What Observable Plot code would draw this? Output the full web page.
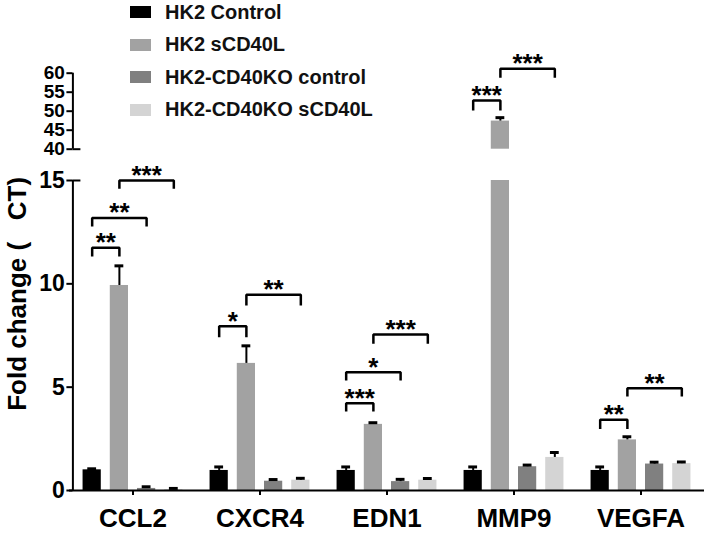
<!DOCTYPE html>
<html><head><meta charset="utf-8">
<script src="https://cdn.jsdelivr.net/npm/d3@7"></script>
<script src="https://cdn.jsdelivr.net/npm/@observablehq/plot@0.6"></script>
<style>
html,body{margin:0;padding:0;background:#fff;}
#chart{position:relative;width:709px;height:537px;font-family:"Liberation Sans",Arial,sans-serif;}
#chart svg{position:absolute;left:0;top:0;}
#legend{position:absolute;left:130px;top:0;width:300px;height:130px;z-index:2;}
.row{position:absolute;left:0;height:24px;display:flex;align-items:center;white-space:nowrap;font-weight:bold;font-size:20px;color:#111;}
.sw{width:21px;height:12px;margin-right:14px;flex:none;}
</style></head>
<body><div id="chart"><div id="legend"></div></div>
<script>
// ---- data ----
const genes = ["CCL2", "CXCR4", "EDN1", "MMP9", "VEGFA"];
const groups = ["HK2 Control", "HK2 sCD40L", "HK2-CD40KO control", "HK2-CD40KO sCD40L"];
const groupColors = ["#000000", "#a2a2a2", "#808080", "#d4d4d4"];

const hk2Control     = [1.00, 0.97, 0.97, 0.97, 0.97];
const hk2ControlErr  = [0.05, 0.17, 0.17, 0.17, 0.17];
const hk2sCD40L      = [9.92, 6.15, 3.20, 47.4, 2.45];
const hk2sCD40LErr   = [0.95, 0.85, 0.08, 0.90, 0.15];
const koControl      = [0.10, 0.45, 0.43, 1.15, 1.28];
const koControlErr   = [0.08, 0.08, 0.11, 0.08, 0.09];
const koSCD40L       = [0.04, 0.50, 0.50, 1.60, 1.30];
const koSCD40LErr    = [0.06, 0.09, 0.08, 0.24, 0.08];

const lowerTicks = [0, 5, 10, 15];
const upperTicks = [40, 45, 50, 55, 60];

// significance brackets (group index from/to, top of bracket, foot of bracket)
const bracketGene  = ["CCL2", "CCL2", "CCL2", "CXCR4", "CXCR4", "EDN1", "EDN1", "EDN1", "MMP9", "MMP9", "VEGFA", "VEGFA"];
const bracketFrom  = [0, 0, 1, 0, 1, 0, 0, 1, 0, 1, 0, 1];
const bracketTo    = [1, 2, 3, 1, 3, 1, 2, 3, 1, 3, 1, 3];
const bracketTop   = [11.74, 13.18, 15.03, 7.95, 9.47, 4.22, 5.72, 7.55, 52.8, 61.2, 3.42, 4.95];
const bracketFoot  = [11.32, 12.77, 14.60, 7.42, 8.95, 3.82, 5.32, 7.10, 50.2, 58.8, 2.98, 4.55];
const bracketLabel = ["**", "**", "***", "*", "**", "***", "*", "***", "***", "***", "**", "**"];

const yLabel = "Fold change (   CT)";

// ---- tables built from the arrays ----
const seriesValues = [hk2Control, hk2sCD40L, koControl, koSCD40L];
const seriesErrors = [hk2ControlErr, hk2sCD40LErr, koControlErr, koSCD40LErr];
const bars = [];
genes.forEach((g, gi) => groups.forEach((grp, si) => {
  bars.push({gene: g, group: grp, slot: si, value: seriesValues[si][gi], err: seriesErrors[si][gi]});
}));
const breakLow = lowerTicks[lowerTicks.length - 1];
const breakHigh = upperTicks[0];
const segments = bars.flatMap(d => d.value <= breakLow
  ? [{...d, y1: 0, y2: d.value}]
  : [{...d, y1: 0, y2: breakLow}, {...d, y1: breakHigh, y2: d.value}]);
const spine = [
  {y1: lowerTicks[0], y2: breakLow},
  {y1: breakHigh, y2: upperTicks[upperTicks.length - 1]}
];
const brackets = bracketGene.map((g, i) => ({
  id: i, gene: g, from: bracketFrom[i], to: bracketTo[i],
  top: bracketTop[i], foot: bracketFoot[i], label: bracketLabel[i]
}));
const bracketPath = brackets.flatMap(b => [
  {id: b.id, gene: b.gene, x: b.from + 0.5, y: b.foot},
  {id: b.id, gene: b.gene, x: b.from + 0.5, y: b.top},
  {id: b.id, gene: b.gene, x: b.to + 0.5, y: b.top},
  {id: b.id, gene: b.gene, x: b.to + 0.5, y: b.foot}
]);

const xDomain = [-0.333, 4.333];
const axisShift = 3.4;

const chart = Plot.plot({
  width: 709,
  height: 537,
  marginTop: 72.7,
  marginBottom: 47,
  marginLeft: 68.6,
  marginRight: 3.6,
  style: {fontFamily: '"Liberation Sans", Arial, sans-serif', fontWeight: "bold", background: "transparent", color: "#000", overflow: "visible"},
  fx: {domain: genes, padding: 0, label: null, axis: null},
  x: {type: "linear", domain: xDomain, axis: null},
  y: {type: "linear", domain: [0, breakLow, breakHigh, 60], range: [490, 180, 148.7, 72.7], axis: null},
  color: {domain: groups, range: groupColors},
  marks: [
    Plot.rectY(segments, {fx: "gene", x1: "slot", x2: d => d.slot + 1, y1: "y1", y2: "y2", fill: "group", insetLeft: 4.5, insetRight: 4.5}),
    Plot.ruleX(bars, {fx: "gene", x: d => d.slot + 0.5, y1: "value", y2: d => d.value + d.err, strokeWidth: 2, stroke: "#000"}),
    Plot.ruleY(bars, {fx: "gene", x1: "slot", x2: d => d.slot + 1, y: d => d.value + d.err, insetLeft: 9.2, insetRight: 9.2, strokeWidth: 3, stroke: "#000"}),
    Plot.line(bracketPath, {fx: "gene", x: "x", y: "y", z: "id", stroke: "#000", strokeWidth: 2.5, strokeLinejoin: "miter", strokeLinecap: "butt"}),
    Plot.text(brackets, {fx: "gene", x: d => (d.from + d.to) / 2 + 0.5, y: "top", text: "label", fontSize: 26, dy: -5, fill: "#000"}),
    Plot.ruleY([0], {strokeWidth: 2, stroke: "#000"}),
    Plot.ruleX(spine, {x: () => xDomain[0], y1: "y1", y2: "y2", dx: axisShift, strokeWidth: 2, stroke: "#000", facetAnchor: "left"}),
    Plot.ruleY([breakLow, breakHigh], {x1: () => xDomain[0], x2: () => xDomain[0], insetRight: -8, dx: axisShift, strokeWidth: 2, stroke: "#000", facetAnchor: "left"}),
    Plot.axisY(lowerTicks, {anchor: "left", tickSize: 6, tickPadding: 2, dx: axisShift, fontSize: 23, strokeWidth: 2, tickFormat: d => String(d), label: null}),
    Plot.axisY(upperTicks, {anchor: "left", tickSize: 6, tickPadding: 2, dx: axisShift, fontSize: 19, strokeWidth: 2, tickFormat: d => String(d), label: null}),
    Plot.axisFx({anchor: "bottom", tickSize: 5, tickPadding: 13, fontSize: 26, strokeWidth: 2, label: null}),
    Plot.text([yLabel], {text: d => d, frameAnchor: "left", textAnchor: "middle", rotate: -90, dx: -52, dy: 12, fontSize: 26, fill: "#000", facetAnchor: "left"})
  ]
});
document.getElementById("chart").appendChild(chart);

// legend
const legend = document.getElementById("legend");
groups.forEach((g, i) => {
  const row = document.createElement("div");
  row.className = "row";
  row.style.top = (i * 32.6) + "px";
  const sw = document.createElement("span");
  sw.className = "sw";
  sw.style.background = groupColors[i];
  const label = document.createElement("span");
  label.textContent = g;
  row.appendChild(sw);
  row.appendChild(label);
  legend.appendChild(row);
});
</script>
</body></html>
